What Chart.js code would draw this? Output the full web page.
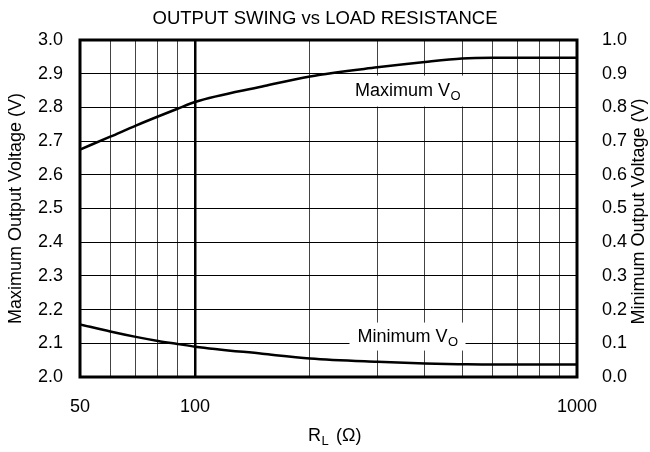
<!DOCTYPE html>
<html>
<head>
<meta charset="utf-8">
<title>Output Swing vs Load Resistance</title>
<script src="https://cdn.jsdelivr.net/npm/chart.js@4.4.1/dist/chart.umd.min.js"></script>
<style>
  html, body { margin: 0; padding: 0; background: #fff; }
  #chart { display: block; }
</style>
</head>
<body>
<canvas id="chart" width="650" height="452"></canvas>
<script>
// ── DATA ────────────────────────────────────────────────────
const loadOhms   = [50, 60, 70, 80, 90, 100, 150, 200, 300, 400, 500, 600, 1000];
const maxVo      = [2.675, 2.713, 2.746, 2.773, 2.796, 2.816, 2.862, 2.892, 2.919, 2.935, 2.945, 2.947, 2.947];
const minVo      = [0.156, 0.135, 0.119, 0.107, 0.098, 0.090, 0.069, 0.055, 0.045, 0.040, 0.038, 0.037, 0.037];
const xGridTicks = [50, 60, 70, 80, 90, 100, 200, 300, 400, 500, 600, 700, 800, 900, 1000];
const xLabelled  = [50, 100, 1000];

const FONT = '"Liberation Sans", Arial, Helvetica, sans-serif';

// ── HELPERS ─────────────────────────────────────────────────
// text with a subscript tail, centred on cx
function drawSubText(ctx, main, sub, cx, cy, size) {
  ctx.font = `${size}px ${FONT}`;
  const wMain = ctx.measureText(main).width;
  ctx.font = `${size * 0.72}px ${FONT}`;
  const wSub = ctx.measureText(sub).width;
  let x = cx - (wMain + wSub) / 2;
  ctx.textAlign = 'left';
  ctx.textBaseline = 'middle';
  ctx.font = `${size}px ${FONT}`;
  ctx.fillText(main, x, cy);
  ctx.font = `${size * 0.72}px ${FONT}`;
  ctx.fillText(sub, x + wMain + 0.5, cy + size * 0.3);
}

// ── OVERLAY PLUGIN: label boxes, frame, axis titles ─────────
const overlay = {
  id: 'overlay',
  beforeDatasetsDraw(chart) {
    const { ctx, scales: { x, y, y1 } } = chart;
    ctx.save();
    ctx.fillStyle = '#fff';
    // white boxes behind the curve labels
    const mx = x.getPixelForValue(360), my = y.getPixelForValue(2.85);
    ctx.fillRect(mx - 58, my - 15, 116, 31);
    const nx = x.getPixelForValue(360), ny = y1.getPixelForValue(0.12);
    ctx.fillRect(nx - 58, ny - 14, 116, 28);
    ctx.restore();
  },
  afterDraw(chart) {
    const { ctx, chartArea: a, scales: { x, y, y1 } } = chart;
    ctx.save();
    // plot frame
    ctx.strokeStyle = '#000';
    ctx.lineWidth = 3;
    ctx.strokeRect(a.left, a.top, a.right - a.left, a.bottom - a.top);

    ctx.fillStyle = '#000';
    drawSubText(ctx, 'Maximum V', 'O', x.getPixelForValue(360), y.getPixelForValue(2.85), 18);
    drawSubText(ctx, 'Minimum V', 'O', x.getPixelForValue(360), y1.getPixelForValue(0.12), 18);

    // x axis title
    drawSubText(ctx, 'R', 'L', 318, 436, 18);
    ctx.font = `18px ${FONT}`;
    ctx.textAlign = 'left';
    ctx.fillText('(\u03A9)', 336, 436);

    // right axis title, reading bottom to top
    ctx.translate(639, (a.top + a.bottom) / 2 + 3);
    ctx.rotate(-Math.PI / 2);
    ctx.textAlign = 'center';
    ctx.textBaseline = 'middle';
    ctx.font = `18px ${FONT}`;
    ctx.fillText('Minimum Output Voltage (V)', 0, 0);
    ctx.restore();
  }
};

// ── CHART ───────────────────────────────────────────────────
new Chart(document.getElementById('chart'), {
  type: 'line',
  data: {
    datasets: [
      {
        label: 'Maximum VO',
        data: loadOhms.map((r, i) => ({ x: r, y: maxVo[i] })),
        yAxisID: 'y',
        borderColor: '#000',
        borderWidth: 2.5,
        pointRadius: 0,
        cubicInterpolationMode: 'monotone',
        fill: false,
      },
      {
        label: 'Minimum VO',
        data: loadOhms.map((r, i) => ({ x: r, y: minVo[i] })),
        yAxisID: 'y1',
        borderColor: '#000',
        borderWidth: 2.5,
        pointRadius: 0,
        cubicInterpolationMode: 'monotone',
        fill: false,
      }
    ]
  },
  options: {
    responsive: false,
    animation: false,
    layout: { padding: 0 },
    plugins: {
      legend: { display: false },
      tooltip: { enabled: false },
      title: {
        display: true,
        text: 'OUTPUT SWING vs LOAD RESISTANCE',
        color: '#000',
        font: { family: FONT, size: 18.5, weight: 'normal', lineHeight: 1.2 },
        padding: { top: 7.5, bottom: 10.3 }
      }
    },
    scales: {
      x: {
        type: 'logarithmic',
        min: 50,
        max: 1000,
        afterBuildTicks: s => { s.ticks = xGridTicks.map(v => ({ value: v })); },
        afterFit: s => { s.height = 75; },
        border: { display: false },
        grid: {
          drawTicks: false,
          color: c => c.tick && c.tick.value === 100 ? '#000' : '#444',
          lineWidth: c => c.tick && c.tick.value === 100 ? 2.5 : 1,
        },
        ticks: {
          autoSkip: false,
          maxRotation: 0,
          padding: 19,
          color: '#000',
          font: { family: FONT, size: 18 },
          callback: v => xLabelled.includes(v) ? String(v) : ''
        }
      },
      y: {
        position: 'left',
        min: 2.0,
        max: 3.0,
        afterFit: s => { s.width = 80; },
        border: { display: false },
        grid: { drawTicks: false, color: '#000', lineWidth: 1 },
        ticks: {
          stepSize: 0.1,
          padding: 17,
          color: '#000',
          font: { family: FONT, size: 18 },
          callback: v => v.toFixed(1)
        },
        title: {
          display: true,
          text: 'Maximum Output Voltage (V)',
          color: '#000',
          font: { family: FONT, size: 18 },
          padding: { top: 5, bottom: 0 }
        }
      },
      y1: {
        position: 'right',
        min: 0.0,
        max: 1.0,
        afterFit: s => { s.width = 73; },
        border: { display: false },
        grid: { display: false, drawOnChartArea: false },
        ticks: {
          stepSize: 0.1,
          padding: 17,
          color: '#000',
          font: { family: FONT, size: 18 },
          callback: v => v.toFixed(1)
        }
      }
    }
  },
  plugins: [overlay]
});
</script>
</body>
</html>
